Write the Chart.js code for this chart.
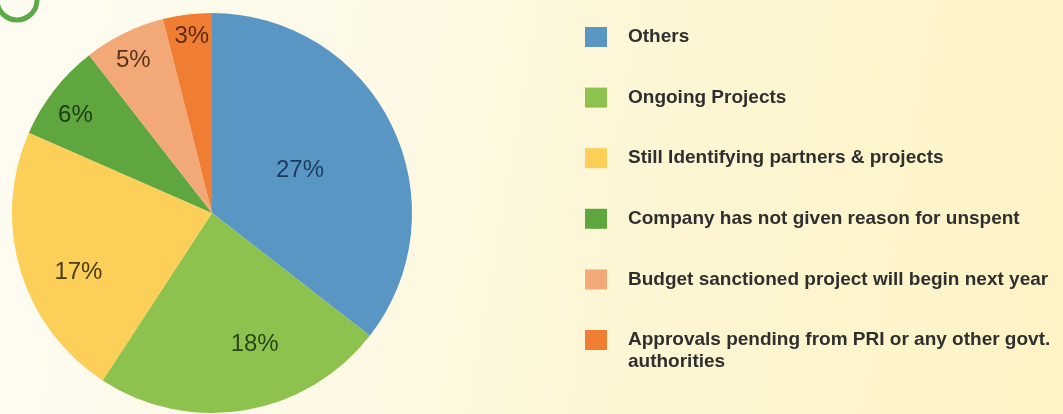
<!DOCTYPE html>
<html>
<head>
<meta charset="utf-8">
<script src="https://cdn.jsdelivr.net/npm/chart.js@4/dist/chart.umd.min.js"></script>
<style>
  html, body { margin: 0; padding: 0; }
  body {
    width: 1063px;
    height: 414px;
    overflow: hidden;
    background: linear-gradient(100deg, #fefcf2 0%, #fdf9e6 35%, #fdf6d4 60%, #fdf3c4 100%);
  }
  canvas { display: block; }
</style>
</head>
<body>
<canvas id="chart" width="1063" height="414"></canvas>
<script>
// reasons for unspent CSR money, share of companies (%)
const categories = [
  'Others',
  'Ongoing Projects',
  'Still Identifying partners & projects',
  'Company has not given reason for unspent',
  'Budget sanctioned project will begin next year',
  ['Approvals pending from PRI or any other govt.', 'authorities']
];
const shares = [27, 18, 17, 6, 5, 3];

const sliceColors = ['#5a96c4', '#8cc24d', '#fccf58', '#5fa63f', '#f3a877', '#ef7e32'];
const labelColors = ['#1d3a5c', '#28461a', '#4a3a12', '#1c3d10', '#5a3418', '#5e2a0c'];
// where each % label sits inside its slice
const labelAngleFrac = [0.5, 0.4, 0.41, 0.42, 0.45, 0.54];
const labelRadiusFrac = [0.49, 0.69, 0.73, 0.84, 0.86, 0.89];

const FONT = "'Liberation Sans', Arial, Helvetica, sans-serif";

// percent text on each slice
const sliceLabels = {
  id: 'sliceLabels',
  afterDatasetsDraw(chart) {
    const ctx = chart.ctx;
    const meta = chart.getDatasetMeta(0);
    ctx.save();
    ctx.font = '24px ' + FONT;
    ctx.textAlign = 'center';
    ctx.textBaseline = 'middle';
    meta.data.forEach((arc, i) => {
      const { x, y, startAngle, endAngle, outerRadius } =
        arc.getProps(['x', 'y', 'startAngle', 'endAngle', 'outerRadius'], true);
      const a = startAngle + (endAngle - startAngle) * labelAngleFrac[i];
      const r = outerRadius * labelRadiusFrac[i];
      ctx.fillStyle = labelColors[i];
      ctx.fillText(shares[i] + '%', x + Math.cos(a) * r, y + Math.sin(a) * r);
    });
    ctx.restore();
  }
};

// square-swatch legend on the right, plus the small ring in the corner
const sideLegend = {
  id: 'sideLegend',
  beforeDraw(chart) {
    const ctx = chart.ctx;
    ctx.save();
    ctx.strokeStyle = '#5aaa48';
    ctx.lineWidth = 5;
    ctx.beginPath();
    ctx.arc(17, 0, 20, 0, Math.PI * 2);
    ctx.stroke();
    ctx.restore();
  },
  afterDraw(chart) {
    const ctx = chart.ctx;
    const boxX = 585, textX = 628, firstY = 37, rowGap = 60.6, lineGap = 22;
    ctx.save();
    ctx.font = 'bold 19px ' + FONT;
    ctx.textAlign = 'left';
    ctx.textBaseline = 'middle';
    chart.data.labels.forEach((label, i) => {
      const cy = firstY + i * rowGap;
      ctx.fillStyle = sliceColors[i];
      ctx.fillRect(boxX, cy - 10, 22, 20);
      ctx.fillStyle = '#2f2f2f';
      const lines = Array.isArray(label) ? label : [label];
      lines.forEach((line, j) => ctx.fillText(line, textX, cy + j * lineGap));
    });
    ctx.restore();
  }
};

new Chart(document.getElementById('chart'), {
  type: 'pie',
  data: {
    labels: categories,
    datasets: [{
      data: shares,
      backgroundColor: sliceColors,
      borderWidth: 0
    }]
  },
  options: {
    responsive: false,
    animation: false,
    devicePixelRatio: 1,
    layout: { padding: { left: 12, right: 651, top: 13, bottom: 1 } },
    plugins: {
      legend: { display: false },
      tooltip: { enabled: false }
    }
  },
  plugins: [sliceLabels, sideLegend]
});
</script>
</body>
</html>
